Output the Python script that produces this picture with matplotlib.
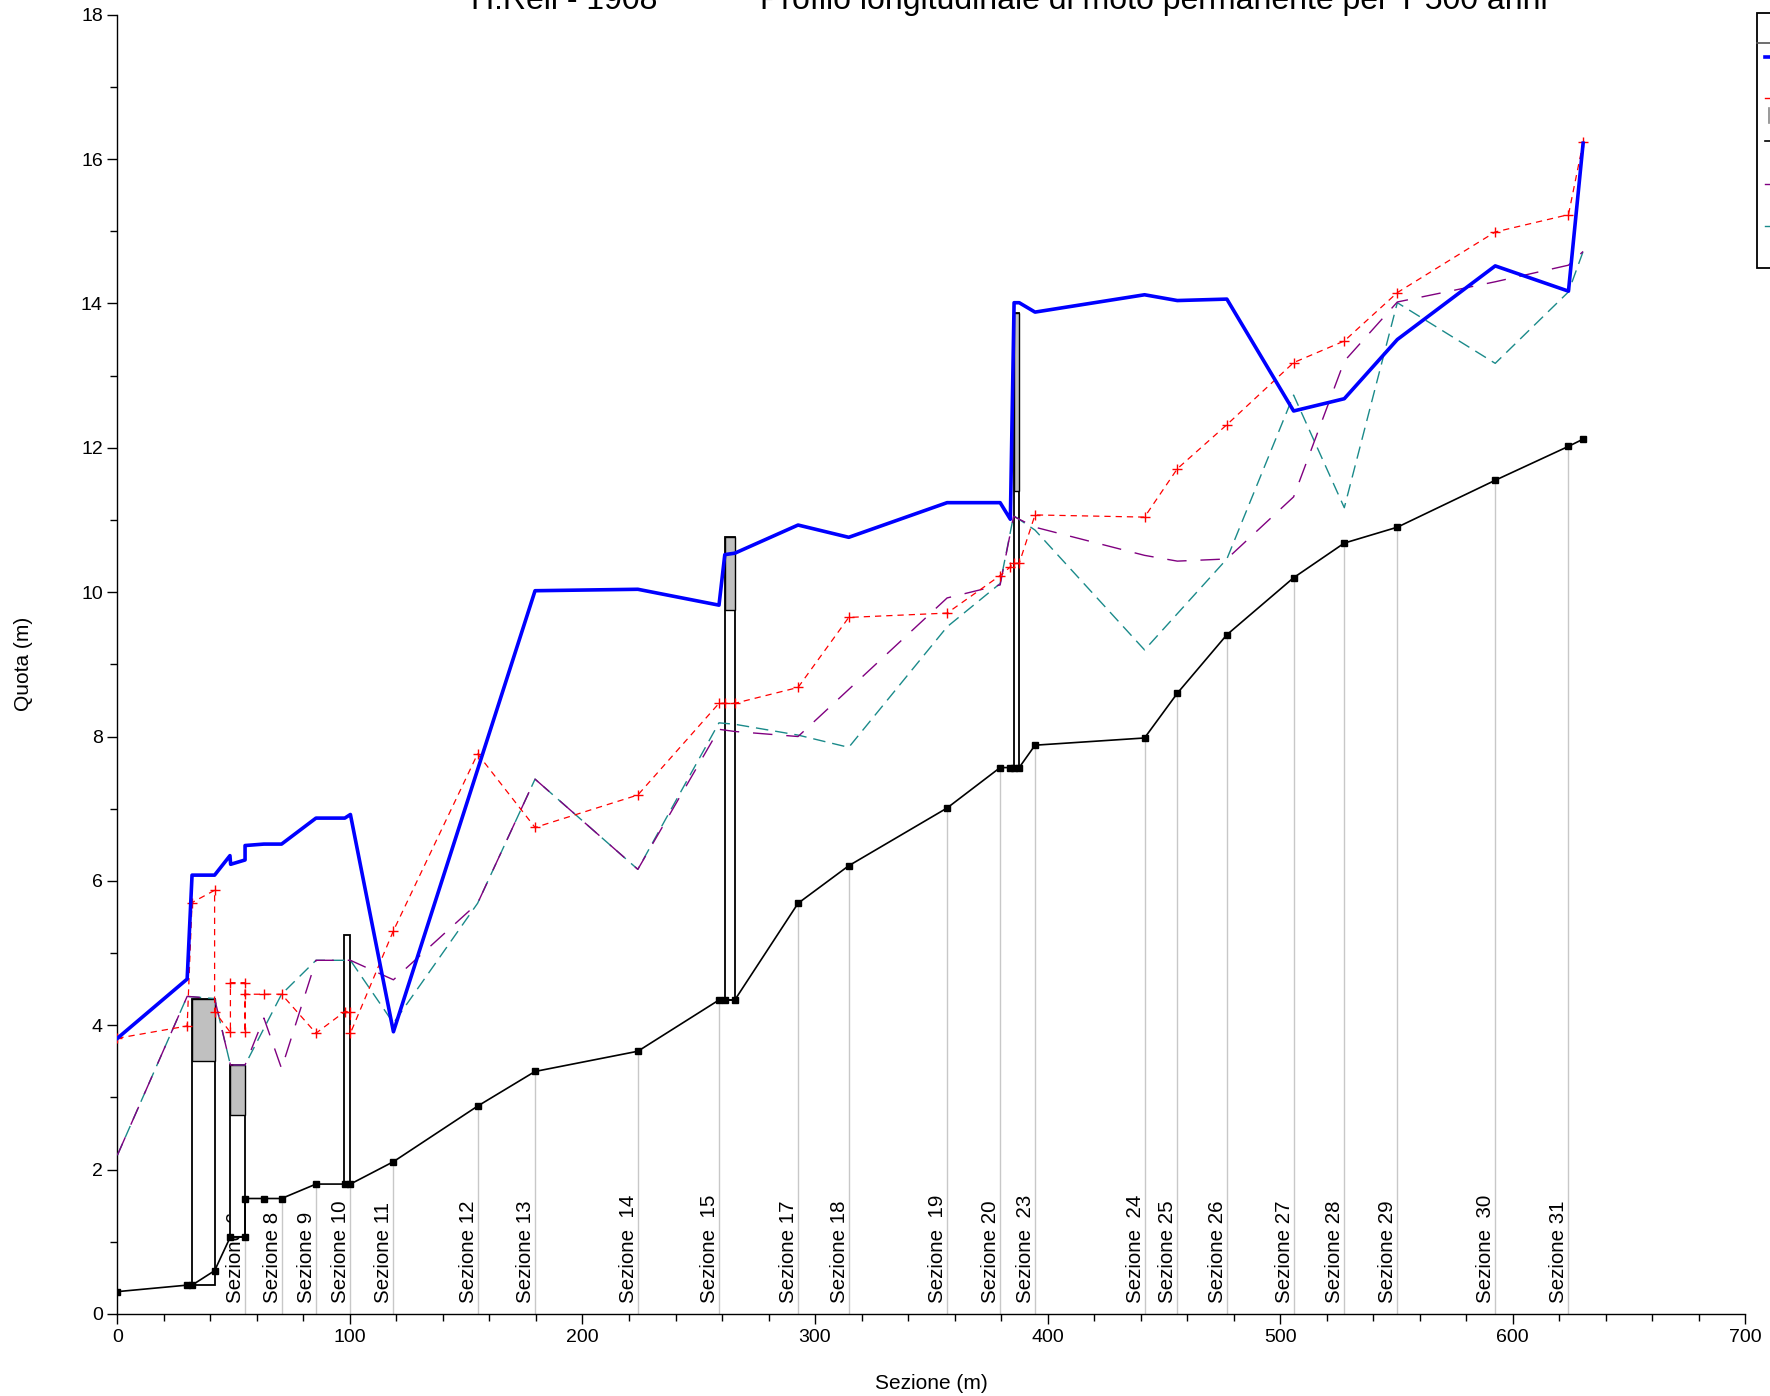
import numpy as np
import matplotlib
matplotlib.use("Agg")
import matplotlib.pyplot as plt
from matplotlib.patches import Rectangle
from matplotlib.lines import Line2D

plt.rcParams['font.family'] = ['Liberation Sans', 'DejaVu Sans']

# --- bed profile (fondo alveo) ---
bed_x = [0.0, 30.0, 32.1, 41.8, 48.6, 54.9, 54.9, 63.0, 70.6, 85.4, 97.8, 100.2,
         118.7, 154.9, 179.6, 223.8, 258.7, 261.2, 265.5, 292.7, 314.5, 356.8,
         379.6, 384.0, 385.4, 387.8, 394.6, 441.7, 455.8, 477.1, 505.8, 527.6,
         550.4, 592.5, 624.0, 630.3]
bed_z = [0.31, 0.40, 0.40, 0.60, 1.07, 1.07, 1.60, 1.60, 1.60, 1.80, 1.80, 1.80,
         2.11, 2.88, 3.36, 3.64, 4.35, 4.35, 4.35, 5.69, 6.21, 7.01,
         7.57, 7.57, 7.57, 7.57, 7.88, 7.98, 8.60, 9.41, 10.20, 10.68,
         10.90, 11.55, 12.02, 12.12]

# --- water surface, T 500 anni ---
ws_x = [0.0, 30.0, 32.1, 41.8, 48.4, 48.7, 54.9, 54.9, 63.0, 70.6, 85.4, 97.8,
        100.2, 118.7, 179.6, 223.8, 258.7, 261.2, 265.5, 292.7, 314.5, 356.8,
        379.6, 384.0, 385.6, 387.8, 394.6, 441.7, 455.8, 477.1, 505.8, 527.6,
        550.4, 592.5, 624.0, 630.3]
ws_z = [3.82, 4.64, 6.08, 6.08, 6.35, 6.23, 6.29, 6.49, 6.51, 6.51, 6.87, 6.87,
        6.92, 3.91, 10.02, 10.04, 9.82, 10.52, 10.54, 10.93, 10.76, 11.24,
        11.24, 11.01, 14.01, 14.01, 13.88, 14.12, 14.04, 14.06, 12.51, 12.68,
        13.50, 14.52, 14.17, 16.22]

# --- energy line ---
en_x = [0.0, 30.0, 32.1, 41.8, 41.8, 48.6, 48.6, 54.9, 54.9, 54.9, 63.0, 70.6,
        85.4, 97.8, 100.2, 100.2, 118.7, 154.9, 179.6, 223.8, 258.7, 261.2,
        265.5, 292.7, 314.5, 356.8, 379.6, 384.0, 385.4, 387.8, 394.6, 441.7,
        455.8, 477.1, 505.8, 527.6, 550.4, 592.5, 624.0, 630.3]
en_z = [3.82, 3.99, 5.70, 5.87, 4.19, 3.90, 4.59, 4.59, 3.90, 4.43, 4.43, 4.43,
        3.89, 4.19, 4.19, 3.89, 5.31, 7.76, 6.74, 7.19, 8.46, 8.46,
        8.46, 8.68, 9.65, 9.71, 10.23, 10.35, 10.40, 10.40, 11.07, 11.04,
        11.71, 12.32, 13.18, 13.48, 14.15, 14.99, 15.23, 16.23]

# --- critical depth ---
cr_x = [0.0, 30.0, 41.8, 48.6, 54.9, 63.0, 70.6, 85.4, 100.2, 118.7, 154.9,
        179.6, 223.8, 258.7, 265.5, 292.7, 356.8, 379.6, 385.4, 394.6, 441.7,
        455.8, 477.1, 505.8, 527.6, 550.4, 592.5, 624.0, 630.3]
cr_z = [2.20, 4.40, 4.37, 3.45, 3.45, 4.10, 3.40, 4.90, 4.90, 4.63, 5.69,
        7.41, 6.16, 8.10, 8.07, 8.00, 9.92, 10.10, 11.05, 10.90, 10.51,
        10.43, 10.46, 11.32, 13.20, 14.02, 14.30, 14.53, 14.72]

# --- moto uniforme ---
un_x = [0.0, 30.0, 41.8, 48.6, 54.9, 70.6, 85.4, 100.2, 118.7, 154.9,
        179.6, 223.8, 258.7, 265.5, 292.7, 314.5, 356.8, 379.6, 385.4, 394.6,
        441.7, 477.1, 505.8, 527.6, 550.4, 592.5, 624.0, 630.3]
un_z = [2.20, 4.40, 4.37, 3.45, 3.45, 4.43, 4.90, 4.90, 4.03, 5.69,
        7.41, 6.16, 8.19, 8.17, 8.02, 7.85, 9.52, 10.12, 11.06, 10.86,
        9.20, 10.46, 12.73, 11.17, 14.01, 13.17, 14.16, 14.72]

# --- bridges: left, right, base, soffit, deck top ---
br_left = [32.1, 48.6, 97.4, 261.2, 385.4]
br_right = [41.8, 54.9, 100.2, 265.5, 387.8]
br_base = [0.40, 1.07, 1.80, 4.35, 7.57]
br_soffit = [3.51, 2.75, 5.25, 9.75, 11.40]
br_top = [4.37, 3.45, 5.25, 10.77, 13.87]

# --- cross-section labels ---
sec_names = ["Sezione 6", "Sezione 8", "Sezione 9", "Sezione 10", "Sezione 11",
             "Sezione 12", "Sezione 13", "Sezione  14", "Sezione  15",
             "Sezione 17", "Sezione 18", "Sezione  19", "Sezione 20",
             "Sezione  23", "Sezione  24", "Sezione 25", "Sezione 26",
             "Sezione 27", "Sezione 28", "Sezione 29", "Sezione  30",
             "Sezione 31"]
sec_x = [54.9, 70.6, 85.4, 100.2, 118.7, 154.9, 179.6, 223.8, 258.7, 292.7,
         314.5, 356.8, 379.6, 394.6, 441.7, 455.8, 477.1, 505.8, 527.6,
         550.4, 592.5, 624.0]

title_left = "H.Rell - 1908"
title_right = "Profilo longitudinale di moto permanente per T 500 anni"

W, H = 1770, 1396
fig = plt.figure(figsize=(W / 100, H / 100), dpi=100)
ax = fig.add_axes([117.4 / W, 82 / H, 1627.8 / W, 1299.3 / H])

# vertical reference lines at every section, up to the bed
bx = np.array(bed_x)
bz = np.array(bed_z)
for sx, name in zip(sec_x, sec_names):
    top = bz[np.argmin(np.abs(bx - sx))]
    ax.plot([sx, sx], [0, top], color='#c8c8c8', lw=1.0, zorder=1)
    ax.text(sx, 0.15, name, rotation=90, ha='right', va='bottom',
            fontsize=14.8, zorder=2)

# bridges
for l, r, b, s, t in zip(br_left, br_right, br_base, br_soffit, br_top):
    ax.add_patch(Rectangle((l, b), r - l, t - b, facecolor='white',
                           edgecolor='black', lw=1.3, zorder=3))
    if t > s:
        ax.add_patch(Rectangle((l, s), r - l, t - s, facecolor='#c0c0c0',
                               edgecolor='black', lw=1.0, zorder=3))

ax.plot(un_x, un_z, color='#1a8a8a', lw=1.0, dashes=(9, 5), zorder=4)
ax.plot(cr_x, cr_z, color='#800080', lw=1.0, dashes=(14, 10), zorder=4)
ax.plot(en_x, en_z, color='red', lw=0.9, dashes=(5, 4), marker='+',
        ms=7, mew=1.0, zorder=5)
ax.plot(bed_x, bed_z, color='black', lw=1.2, marker='s', ms=5, zorder=6)
ax.plot(ws_x, ws_z, color='#0000ff', lw=2.6, zorder=7)

ax.set_xlim(0, 700)
ax.set_ylim(0, 18)
ax.set_xticks(np.arange(0, 701, 100))
ax.set_xticks(np.arange(0, 701, 20), minor=True)
ax.set_yticks(np.arange(0, 19, 2))
ax.set_yticks(np.arange(0, 19, 1), minor=True)
ax.tick_params(which='major', direction='out', length=7, width=1,
               labelsize=14)
ax.tick_params(which='minor', direction='out', length=5, width=1)
for side in ('top', 'right'):
    ax.spines[side].set_visible(False)
for side in ('left', 'bottom'):
    ax.spines[side].set_linewidth(1.0)
ax.set_xlabel("Sezione (m)", fontsize=15)
ax.set_ylabel("Quota (m)", fontsize=15)
ax.xaxis.set_label_coords(0.5, -0.046)
ax.yaxis.set_label_coords(-0.052, 0.5)

# title, partly above the top edge
fig.text(564 / W, 1 - 9 / H, title_left, ha='center', va='baseline',
         fontsize=23)
fig.text(1154 / W, 1 - 9 / H, title_right, ha='center', va='baseline',
         fontsize=23)

# legend box at the right edge
lx = 1757 / W
fig.add_artist(Rectangle((lx, 1 - 268 / H), 0.05, (268 - 13) / H,
                         transform=fig.transFigure, facecolor='white',
                         edgecolor='black', lw=1.3, clip_on=False))
fig.add_artist(Line2D([lx, 1.0], [1 - 43 / H, 1 - 43 / H],
                      transform=fig.transFigure, color='#555555', lw=1.2))
leg_entries = [(57, '#0000ff', 2.6), (98, 'red', 1.0), (141, 'black', 1.2),
               (184, '#800080', 1.0), (226, '#1a8a8a', 1.0)]
for yy, col, lw in leg_entries:
    fig.add_artist(Line2D([1765 / W, 1.0], [1 - yy / H, 1 - yy / H],
                          transform=fig.transFigure, color=col, lw=lw))
fig.add_artist(Line2D([1769 / W, 1769 / W], [1 - 108 / H, 1 - 123 / H],
                      transform=fig.transFigure, color='#888888', lw=1.2))

fig.savefig("out.png", dpi=100)
